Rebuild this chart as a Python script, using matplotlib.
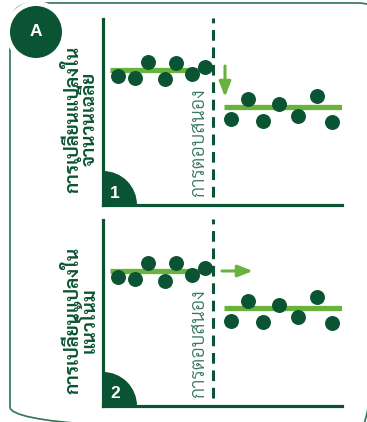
import matplotlib
matplotlib.use("Agg")
import matplotlib.pyplot as plt
from matplotlib.patches import Circle, Wedge, FancyBboxPatch

# data (x = time, y = outcome)
t_before = [1.5, 3.2, 4.5, 6.2, 7.3, 8.9, 10.2]
t_after = [12.8, 14.5, 16.0, 17.6, 19.5, 21.4, 22.9]
y_before_1 = [12.9, 12.7, 14.3, 12.6, 14.2, 13.1, 13.8]
y_after_1 = [8.6, 10.6, 8.4, 10.1, 8.9, 10.9, 8.3]
y_before_2 = [12.9, 12.7, 14.3, 12.5, 14.3, 13.1, 13.8]
y_after_2 = [8.5, 10.5, 8.4, 10.1, 8.9, 10.9, 8.3]
mean_before = 13.5
mean_after = 9.8
line_before = [0.7, 10.5]
line_after = [12.1, 23.9]
t_response = 11.0

ylabels = ["การเปลี่ยนแปลงใน\nจำนวนเฉลี่ย", "การเปลี่ยนแปลงใน\nแนวโน้ม"]
response_label = "การตอบสนอง"
badges = ["1", "2"]

dark = "#0b5433"
light = "#6ab23e"
frame_col = "#2b7758"
thai = ["Sarabun", "Anuphan", "DejaVu Sans"]
latin = ["Liberation Sans", "DejaVu Sans"]

W, H = 367, 422
fig = plt.figure(figsize=(W / 100, H / 100), dpi=100)

# background layer in pixel units for frame and badges
bg = fig.add_axes([0, 0, 1, 1])
bg.set_xlim(0, W)
bg.set_ylim(H, 0)
bg.axis("off")
bg.add_patch(FancyBboxPatch((10, 3), 372, 428, boxstyle="round,pad=0,rounding_size=24",
                            fill=False, ec=frame_col, lw=1.2))
bg.add_patch(Circle((36, 32), 31, fc="white", ec="none"))
bg.add_patch(Circle((36, 32), 26, fc=dark, ec="none"))
bg.text(36, 32, "A", color="white", fontsize=12.5, fontweight="bold",
        family=latin, ha="center", va="center")

panels = [
    (19, y_before_1, y_after_1),
    (220, y_before_2, y_after_2),
]

for i, (top, yb, ya) in enumerate(panels):
    ax = fig.add_axes([103 / W, 1 - (top + 186) / H, 239 / W, 186 / H])
    ax.set_xlim(0, 23.9)
    ax.set_ylim(0, 18.6)
    ax.patch.set_alpha(0)
    for s in ["top", "right"]:
        ax.spines[s].set_visible(False)
    for s in ["left", "bottom"]:
        ax.spines[s].set_color(dark)
        ax.spines[s].set_linewidth(2.3)
    ax.set_xticks([])
    ax.set_yticks([])

    ax.plot([t_response, t_response], [0.8, 18.7], color=dark, lw=2.2,
            ls=(0, (3.5, 2.2)), clip_on=False)
    ax.plot(line_before, [mean_before, mean_before], color=light, lw=3.8, solid_capstyle="butt")
    ax.plot(line_after, [mean_after, mean_after], color=light, lw=3.8, solid_capstyle="butt")
    ax.scatter(t_before, yb, s=95, color=dark, zorder=3, clip_on=False)
    ax.scatter(t_after, ya, s=95, color=dark, zorder=3, clip_on=False)

    if i == 0:
        ax.annotate("", xy=(12.2, 10.8), xytext=(12.2, 13.9),
                    arrowprops=dict(arrowstyle="-|>,head_length=0.9,head_width=0.35",
                                    color=light, lw=2.2, shrinkA=0, shrinkB=0))
    else:
        ax.annotate("", xy=(15.0, 13.5), xytext=(11.9, 13.5),
                    arrowprops=dict(arrowstyle="-|>,head_length=0.9,head_width=0.35",
                                    color=light, lw=2.2, shrinkA=0, shrinkB=0))

    ax.text(t_response - 0.5, 0.8, response_label, rotation=90, ha="right", va="bottom",
            color="#3a7862", fontsize=14, family=thai, fontweight=300)

    # badge in the corner
    bg.add_patch(Wedge((103, top + 186), 34, -90, 0, fc=dark, ec="none", zorder=3))
    bg.text(115, top + 186 - 12, badges[i], color="white", fontsize=12.5,
            fontweight="bold", family=latin, ha="center", va="center", zorder=4)

    bg.text(81, top + 100, ylabels[i], rotation=90, ha="center", va="center",
            multialignment="center", color=dark, fontsize=13.5, fontweight="bold",
            family=thai, linespacing=0.85)

fig.savefig("out.png", dpi=100)
